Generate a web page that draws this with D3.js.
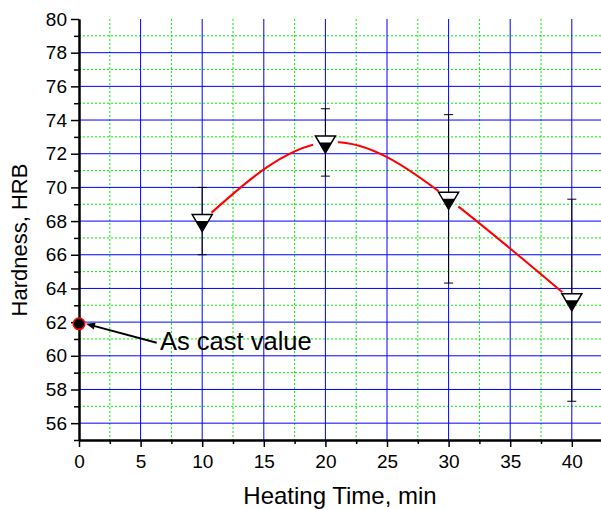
<!DOCTYPE html>
<html lang="en">
<head>
  <meta charset="UTF-8">
  <title>Hardness vs Heating Time</title>
  <script src="https://d3js.org/d3.v7.min.js"></script>
</head>
<body style="margin: 0; overflow: hidden; background: #fff;">

<script>
  //Chart data
  const times = [10, 20, 30, 40];
  const hardness = [68.0, 72.67, 69.32, 63.3];
  const errors = [2.0, 2.0, 5.0, 6.0];
  const castTime = [0];
  const castHardness = [61.9];

  //Tick values
  const xMajor = [0, 5, 10, 15, 20, 25, 30, 35, 40];
  const xMinor = [2.5, 7.5, 12.5, 17.5, 22.5, 27.5, 32.5, 37.5];
  const yMajor = [56, 58, 60, 62, 64, 66, 68, 70, 72, 74, 76, 78, 80];
  const yMinor = [55, 57, 59, 61, 63, 65, 67, 69, 71, 73, 75, 77, 79];

  const W = 601, H = 510;
  const plotLeft = 79, plotRight = 601, plotTop = 19, plotBottom = 440;
  const font = '"Liberation Sans", Arial, sans-serif';

  const svg = d3.select('body').append('svg')
    .attr('width', W)
    .attr('height', H)
    .style('font-family', font);

  const x = d3.scaleLinear().domain([0, (plotRight - plotLeft) / 12.32]).range([plotLeft, plotRight]);
  const y = d3.scaleLinear().domain([55, 80]).range([plotBottom, plotTop]);

  //Grid - minor green dotted
  const grid = svg.append('g');
  grid.selectAll('.gxm').data(xMinor).join('line')
    .attr('x1', d => x(d)).attr('x2', d => x(d))
    .attr('y1', plotTop).attr('y2', plotBottom)
    .attr('stroke', '#00ee00').attr('stroke-width', 1).attr('stroke-dasharray', '2,2');
  grid.selectAll('.gym').data(yMinor.filter(d => d > 55)).join('line')
    .attr('x1', plotLeft).attr('x2', plotRight)
    .attr('y1', d => y(d)).attr('y2', d => y(d))
    .attr('stroke', '#00ee00').attr('stroke-width', 1).attr('stroke-dasharray', '2,2');

  //Grid - major blue
  grid.selectAll('.gxM').data(xMajor.filter(d => d > 0)).join('line')
    .attr('x1', d => x(d)).attr('x2', d => x(d))
    .attr('y1', plotTop).attr('y2', plotBottom)
    .attr('stroke', '#0000ff').attr('stroke-width', 1);
  grid.selectAll('.gyM').data(yMajor.filter(d => d < 80)).join('line')
    .attr('x1', plotLeft).attr('x2', plotRight)
    .attr('y1', d => y(d)).attr('y2', d => y(d))
    .attr('stroke', '#0000ff').attr('stroke-width', 1);

  //Mask so the red curve has gaps around the symbols
  const mask = svg.append('defs').append('mask').attr('id', 'gaps');
  mask.append('rect').attr('width', W).attr('height', H).attr('fill', 'white');
  mask.selectAll('circle').data(times).join('circle')
    .attr('cx', d => x(d))
    .attr('cy', (d, i) => y(hardness[i]))
    .attr('r', 12.5)
    .attr('fill', 'black');

  //Spline through the points
  const line = d3.line()
    .x((d, i) => x(times[i]))
    .y(d => y(d))
    .curve(d3.curveNatural);

  svg.append('path')
    .attr('d', line(hardness))
    .attr('fill', 'none')
    .attr('stroke', '#ff0000')
    .attr('stroke-width', 2)
    .attr('mask', 'url(#gaps)');

  //Error bars
  const eb = svg.append('g').attr('stroke', '#000').attr('stroke-width', 1);
  times.forEach((t, i) => {
    const cx = x(t);
    const y1 = y(hardness[i] + errors[i]);
    const y2 = y(hardness[i] - errors[i]);
    eb.append('line').attr('x1', cx).attr('x2', cx).attr('y1', y1).attr('y2', y2);
    eb.append('line').attr('x1', cx - 4.5).attr('x2', cx + 4.5).attr('y1', y1).attr('y2', y1);
    eb.append('line').attr('x1', cx - 4.5).attr('x2', cx + 4.5).attr('y1', y2).attr('y2', y2);
  });

  //Half filled down triangles
  times.forEach((t, i) => {
    const cx = x(t), cy = y(hardness[i]);
    const t0 = cy - 6.5, t1 = cy + 10.5, hw = 10;
    //Half width at the split line
    const sw = hw * (t1 - cy) / (t1 - t0);
    svg.append('polygon')
      .attr('points', `${cx - hw},${t0} ${cx + hw},${t0} ${cx},${t1}`)
      .attr('fill', '#fff');
    svg.append('polygon')
      .attr('points', `${cx - sw},${cy} ${cx + sw},${cy} ${cx},${t1}`)
      .attr('fill', '#000');
    svg.append('polygon')
      .attr('points', `${cx - hw},${t0} ${cx + hw},${t0} ${cx},${t1}`)
      .attr('fill', 'none')
      .attr('stroke', '#000')
      .attr('stroke-width', 1.5)
      .attr('stroke-linejoin', 'miter');
  });

  //Axes
  svg.append('g').attr('transform', `translate(${plotLeft},0)`)
    .call(d3.axisLeft(y).tickValues(yMajor).tickSize(8).tickSizeOuter(0).tickPadding(4));
  svg.append('g').attr('transform', `translate(${plotLeft},0)`)
    .call(d3.axisLeft(y).tickValues(yMinor).tickSize(5).tickSizeOuter(0).tickFormat(''));
  svg.append('g').attr('transform', `translate(0,${plotBottom})`)
    .call(d3.axisBottom(x).tickValues(xMajor).tickSize(7).tickSizeOuter(0).tickPadding(8));
  svg.append('g').attr('transform', `translate(0,${plotBottom})`)
    .call(d3.axisBottom(x).tickValues(xMinor).tickSize(4).tickSizeOuter(0).tickFormat(''));

  svg.selectAll('.domain').attr('stroke', '#000').attr('stroke-width', 2);
  svg.selectAll('.tick line').attr('stroke', '#000').attr('stroke-width', 1.5);
  svg.selectAll('.tick text')
    .attr('fill', '#000')
    .style('font-family', font)
    .style('font-size', '19px');

  //Axis titles
  svg.append('text')
    .attr('x', (plotLeft + plotRight) / 2)
    .attr('y', 504)
    .attr('text-anchor', 'middle')
    .style('font-size', '24px')
    .text('Heating Time, min');

  svg.append('text')
    .attr('transform', 'translate(27,240) rotate(-90)')
    .attr('text-anchor', 'middle')
    .style('font-size', '22px')
    .text('Hardness, HRB');

  //As cast value point and annotation
  const tip = [x(castTime[0]) + 7, y(castHardness[0])];
  const tail = [156.7, 342.7];
  const ang = Math.atan2(tail[1] - tip[1], tail[0] - tip[0]);
  svg.append('line')
    .attr('x1', tail[0]).attr('y1', tail[1])
    .attr('x2', tip[0] + 7 * Math.cos(ang)).attr('y2', tip[1] + 7 * Math.sin(ang))
    .attr('stroke', '#000').attr('stroke-width', 2);
  const hl = 9, hwid = 3.5;
  const bx = tip[0] + hl * Math.cos(ang), by = tip[1] + hl * Math.sin(ang);
  svg.append('polygon')
    .attr('points', [
      tip,
      [bx - hwid * Math.sin(ang), by + hwid * Math.cos(ang)],
      [bx + hwid * Math.sin(ang), by - hwid * Math.cos(ang)]
    ].map(p => p.join(',')).join(' '))
    .attr('fill', '#000');

  svg.selectAll('.cast').data(castHardness).join('circle')
    .attr('cx', (d, i) => x(castTime[i]))
    .attr('cy', d => y(d))
    .attr('r', 5.8)
    .attr('fill', '#000')
    .attr('stroke', '#ff0000')
    .attr('stroke-width', 1.5);

  svg.append('text')
    .attr('x', 160)
    .attr('y', 350)
    .style('font-size', '25.5px')
    .text('As cast value');
</script>

</body>
</html>
